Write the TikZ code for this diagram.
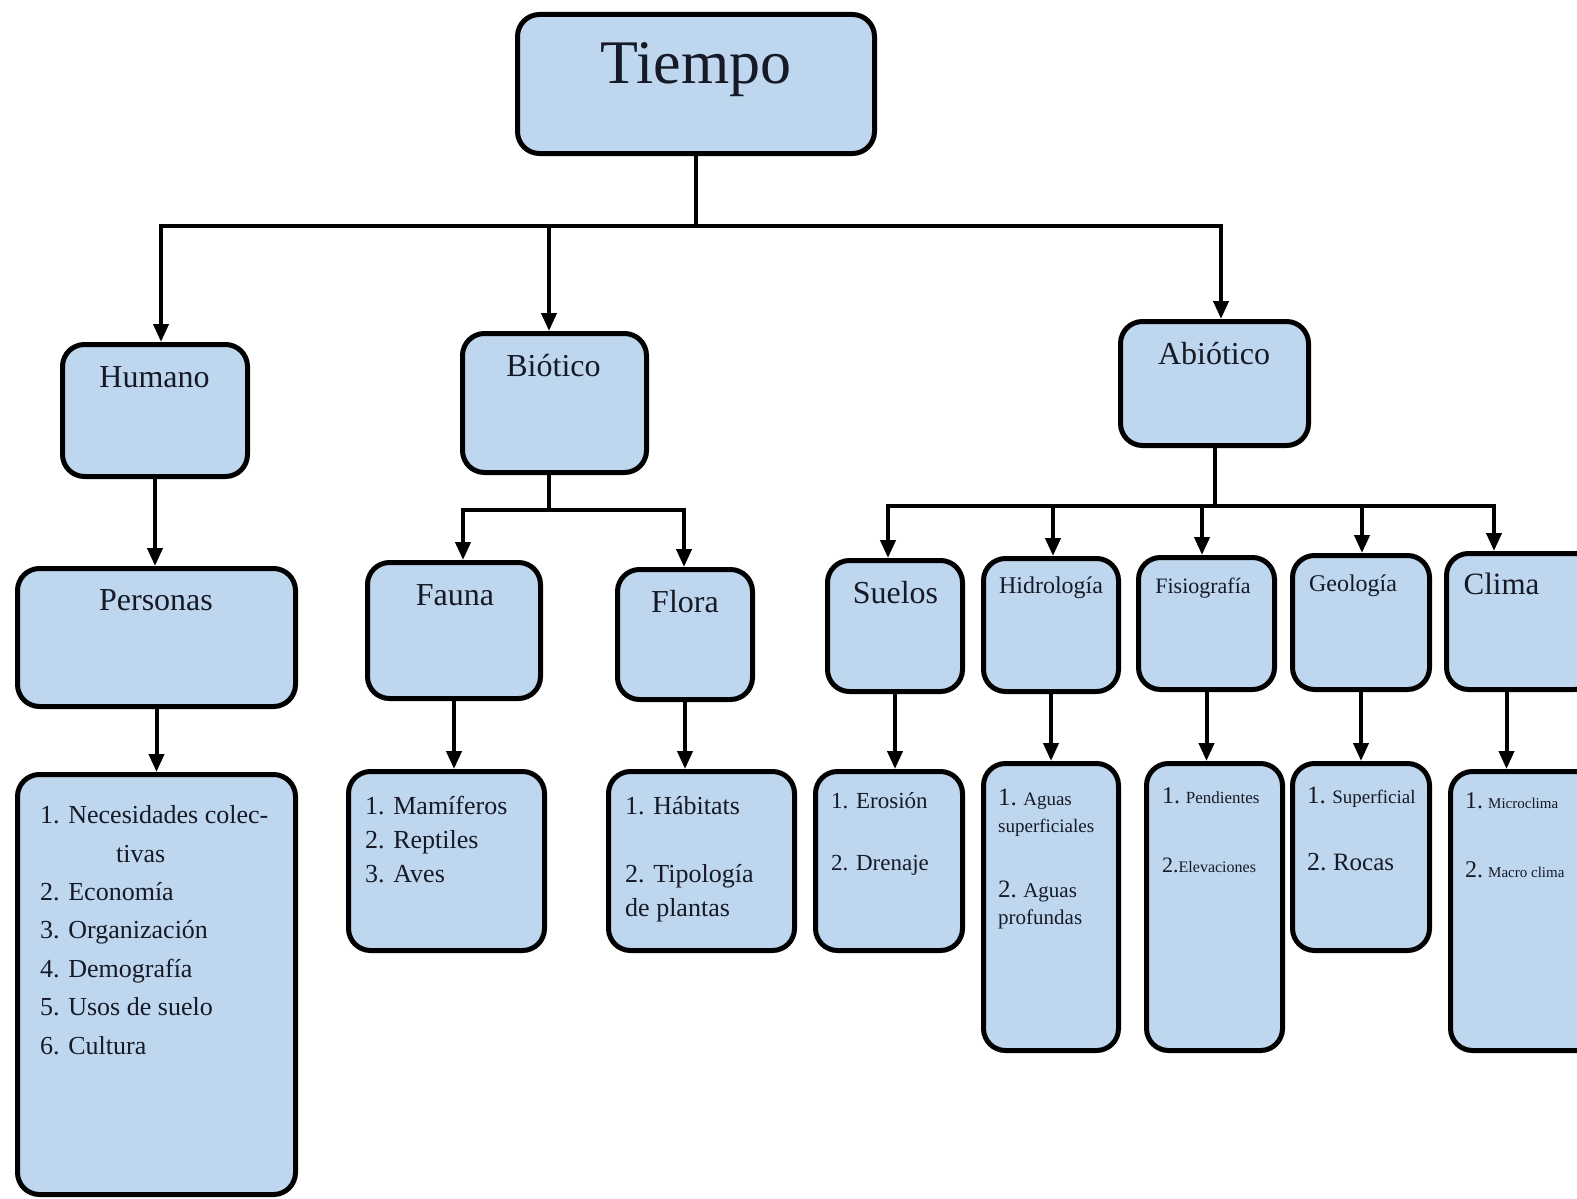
\documentclass[tikz,border=0pt]{standalone}
\usepackage{fontspec}
\setmainfont{Liberation Serif}
\usetikzlibrary{arrows.meta}
\definecolor{cajaazul}{RGB}{190,214,238}
\definecolor{tinta}{RGB}{22,26,38}
\newcommand{\tam}[1]{\fontsize{#1}{#1}\selectfont}
\tikzset{
  caja/.style={draw=black, line width=5pt, fill=cajaazul, rounded corners=22pt, inner sep=0pt},
  linea/.style={line width=4pt},
  flecha/.style={line width=4pt, -{Triangle[length=18pt,width=15pt]}},
  titulo/.style={text=tinta, inner sep=0pt, anchor=base, font=\fontsize{32}{38}\selectfont},
  lista/.style={text=tinta, inner sep=0pt, anchor=base west, align=left},
}

\begin{document}
\begin{tikzpicture}[x=1pt,y=-1pt]
%%%%% START %%%%%
\useasboundingbox (0,0) rectangle (1577,1199);

% cajas
\node[caja, minimum width=357pt, minimum height=139pt] (tiempo) at (696,84) {};

\node[caja, minimum width=185pt, minimum height=132pt] (humano) at (155,410.5) {};
\node[caja, minimum width=184pt, minimum height=139pt] (biotico) at (554.5,403) {};
\node[caja, minimum width=188pt, minimum height=124pt] (abiotico) at (1214.5,383.5) {};

\node[caja, minimum width=278pt, minimum height=138pt] (personas) at (156.5,637.5) {};
\node[caja, minimum width=173pt, minimum height=136pt] (fauna) at (454,630.5) {};
\node[caja, minimum width=135pt, minimum height=130pt] (flora) at (685,634.5) {};
\node[caja, minimum width=135pt, minimum height=131pt] (suelos) at (895,626) {};
\node[caja, minimum width=135pt, minimum height=133pt] (hidrologia) at (1051,625) {};
\node[caja, minimum width=136pt, minimum height=132pt] (fisiografia) at (1206.5,623.5) {};
\node[caja, minimum width=137pt, minimum height=134pt] (geologia) at (1361,622.5) {};
\node[caja, minimum width=150pt, minimum height=136pt] (clima) at (1521.5,621.5) {};

\node[caja, minimum width=278pt, minimum height=420pt] (lPersonas) at (156.5,984.5) {};
\node[caja, minimum width=196pt, minimum height=179pt] (lFauna) at (446.5,861) {};
\node[caja, minimum width=186pt, minimum height=179pt] (lFlora) at (701.5,861) {};
\node[caja, minimum width=147pt, minimum height=179pt] (lSuelos) at (889,861) {};
\node[caja, minimum width=135pt, minimum height=287pt] (lHidro) at (1051,907) {};
\node[caja, minimum width=136pt, minimum height=287pt] (lFisio) at (1214.5,907) {};
\node[caja, minimum width=137pt, minimum height=187pt] (lGeo) at (1361,857) {};
\node[caja, minimum width=150pt, minimum height=279pt] (lClima) at (1525.5,911) {};

% titulos
\node[titulo, font=\fontsize{62}{70}\selectfont] (tTiempo) at (696,84) {Tiempo};
\node[titulo] (tHumano) at (154.5,387) {Humano};
\node[titulo] (tBiotico) at (553.5,376) {Biótico};
\node[titulo] (tAbiotico) at (1214,364) {Abiótico};
\node[titulo] (tPersonas) at (156,610) {Personas};
\node[titulo] (tFauna) at (455,605) {Fauna};
\node[titulo] (tFlora) at (685,612) {Flora};
\node[titulo] (tSuelos) at (895.5,603) {Suelos};
\node[titulo, font=\tam{24}] (tHidro) at (1051,593) {Hidrología};
\node[titulo, font=\tam{22}] (tFisio) at (1203,593) {Fisiografía};
\node[titulo, font=\tam{24}] (tGeo) at (1353,591) {Geología};
\node[titulo, font=\tam{31}] (tClima) at (1501.5,594) {Clima};

% listas (ancladas en la linea de base de la ultima linea)
\node[lista, font=\fontsize{26}{38.4}\selectfont] (xPersonas) at (40,1054)
  {1. Necesidades colec-\\\hspace*{76pt}tivas\\2. Economía\\3. Organización\\4. Demografía\\5. Usos de suelo\\6. Cultura};
\node[lista, font=\fontsize{26}{34}\selectfont] (xFauna) at (365,882)
  {1. Mamíferos\\2. Reptiles\\3. Aves};
\node[lista, font=\fontsize{26}{34}\selectfont] (xFlora) at (625,916)
  {1. Hábitats\\[34pt]2. Tipología\\de plantas};
\node[lista, font=\fontsize{23}{62}\selectfont] (xSuelos) at (831,870)
  {1. Erosión\\2. Drenaje};
\node[lista, font=\fontsize{19}{27}\selectfont] (xHidro) at (998,924)
  {{\tam{25}1.} Aguas\\superficiales\\[38pt]{\tam{25}2.} {\tam{21}Aguas}\\{\tam{21}profundas}};
\node[lista, font=\fontsize{17}{69}\selectfont] (xFisio) at (1162,872)
  {{\tam{24}1.} Pendientes\\{\tam{22}2.}{\tam{16}Elevaciones}};
\node[lista, font=\fontsize{19}{67}\selectfont] (xGeo) at (1307,870)
  {{\tam{25}1.} Superficial\\{\tam{26}2.} {\tam{25}Rocas}};
\node[lista, font=\fontsize{15}{69}\selectfont] (xClima) at (1465,877)
  {{\tam{24}1.} Microclima\\{\tam{24}2.} Macro clima};

% conectores
\coordinate (barI) at (161,226);
\coordinate (barB) at (549,226);
\coordinate (barD) at (1221,226);
\draw[linea] (tiempo.south) -- (tiempo.south |- barI);
\draw[flecha] (barD) -- (barI) -- (barI |- humano.north);
\draw[flecha] (barI) -- (barD) -- (barD |- abiotico.north);
\draw[flecha] (barB) -- (barB |- biotico.north);

\coordinate (bioI) at (463,510);
\coordinate (bioD) at (684,510);
\draw[linea] ([xshift=-6pt]biotico.south) -- ([xshift=-6pt]biotico.south |- bioI);
\draw[flecha] (bioD) -- (bioI) -- (bioI |- fauna.north);
\draw[flecha] (bioI) -- (bioD) -- (bioD |- flora.north);

\coordinate (abiI) at (888,506);
\coordinate (abiD) at (1494,506);
\coordinate (cHidro) at (1053,506);
\coordinate (cFisio) at (1202,506);
\coordinate (cGeo) at (1362,506);
\draw[linea] (abiotico.south) -- (abiotico.south |- abiI);
\draw[flecha] (abiD) -- (abiI) -- (abiI |- suelos.north);
\draw[flecha] (abiI) -- (abiD) -- (abiD |- clima.north);
\foreach \c/\n in {cHidro/hidrologia, cFisio/fisiografia, cGeo/geologia}
  \draw[flecha] (\c) -- (\c |- \n.north);

\draw[flecha] (humano.south) -- (humano.south |- personas.north);
\foreach \a/\b in {personas/lPersonas, fauna/lFauna, flora/lFlora, suelos/lSuelos,
                   hidrologia/lHidro, fisiografia/lFisio, geologia/lGeo}
  \draw[flecha] (\a.south) -- (\a.south |- \b.north);
\draw[flecha] ([xshift=-15pt]clima.south) -- ([xshift=-15pt]clima.south |- lClima.north);

%%%%% END %%%%%
\end{tikzpicture}
\end{document}
